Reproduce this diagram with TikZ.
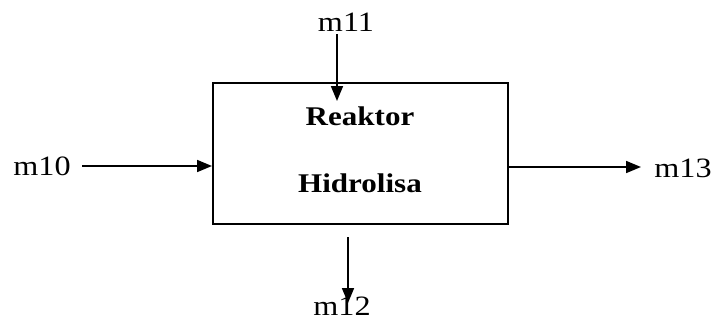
\documentclass[tikz,border=0pt]{standalone}
\usepackage{fontspec}
\setmainfont{Liberation Serif}[FakeStretch=1.15]
\usetikzlibrary{arrows.meta}
\begin{document}
\begin{tikzpicture}[x=1pt,y=-1pt,
  flow/.style={line width=1.7pt,-{Triangle[length=15pt,width=12pt]}},
  lbl/.style={inner sep=0pt,font=\fontsize{28}{32}\selectfont},
  unit/.style={draw,line width=2pt,minimum width=295pt,minimum height=141pt,inner sep=0pt},
  title/.style={inner sep=0pt,font=\fontsize{27}{31}\selectfont\bfseries}]
\useasboundingbox (0,0) rectangle (716,322);
% reactor block
\node[unit] (box) at (360.5,153.5) {};
\node[title] (t1) at (360,116) {Reaktor};
\node[title] (t2) at (360,183) {Hidrolisa};
% stream labels
\node[lbl] (m10) at (42,166) {m10};
\node[lbl] (m11) at (346,22) {m11};
\node[lbl] (m12) at (342,306) {m12};
\node[lbl] (m13) at (683,168) {m13};
% stream ends
\coordinate (s10) at (82,166);
\coordinate (s11) at (337,34);
\coordinate (e11) at (337,101);
\coordinate (s12) at (348,237);
\coordinate (e12) at (348,303);
\coordinate (e13) at (641,167);
% streams
\draw[flow] (s10) -- (s10 -| box.west);
\draw[flow] (s11) -- (e11);
\draw[flow] (s12) -- (e12);
\draw[flow] (e13 -| box.east) -- (e13);
\end{tikzpicture}
\end{document}
